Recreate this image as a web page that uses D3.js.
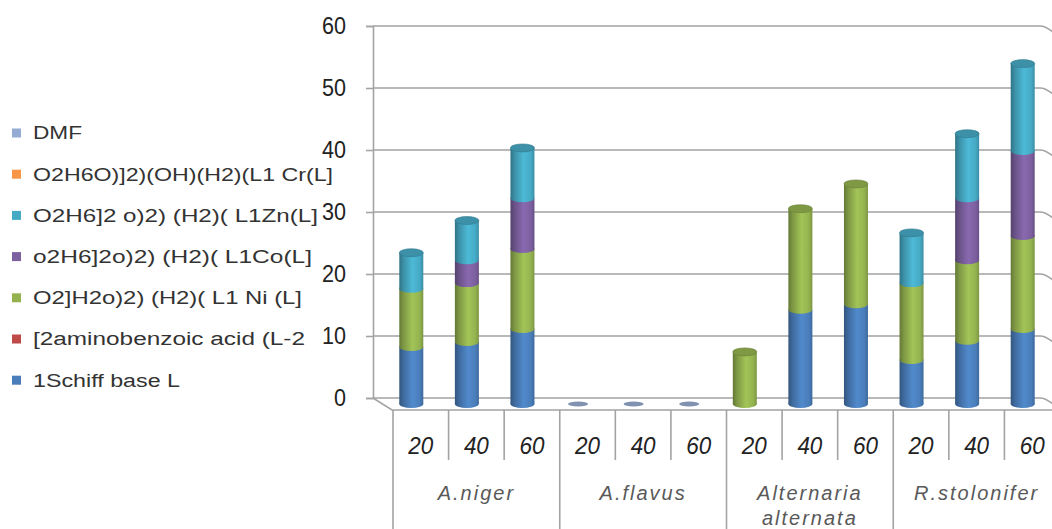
<!DOCTYPE html>
<html>
<head>
<meta charset="utf-8">
<script src="https://cdn.jsdelivr.net/npm/d3@7"></script>
<style>
  body { margin: 0; background: #fff; }
  svg { display: block; font-family: "Liberation Sans", Arial, sans-serif; }
</style>
</head>
<body>
<svg id="chart" width="1052" height="529"></svg>
<script>
// Categories: fungus groups and concentrations.
const groups = ["A.niger", "A.flavus", "Alternaria alternata", "R.stolonifer"];
const concs = ["20", "40", "60"];

// Series values, one per category (12 = 4 groups x 3 concentrations), bottom of stack first.
const schiffBase = [9.2, 10.0, 12.1, 0, 0, 0, 0, 15.2, 16.1, 7.1, 10.2, 12.1];
const aminobenzoic = [0, 0, 0, 0, 0, 0, 0, 0, 0, 0, 0, 0];
const niComplex = [9.4, 9.5, 12.9, 0, 0, 0, 8.4, 16.3, 19.4, 12.4, 13.0, 15.0];
const coComplex = [0, 3.7, 8.2, 0, 0, 0, 0, 0, 0, 0, 10.0, 13.7];
const znComplex = [5.8, 6.4, 8.1, 0, 0, 0, 0, 0, 0, 8.1, 10.4, 14.1];
const crComplex = [0, 0, 0, 0, 0, 0, 0, 0, 0, 0, 0, 0];
const dmf = [0, 0, 0, 0, 0, 0, 0, 0, 0, 0, 0, 0];

const seriesNames = [
  "1Schiff base L",
  "[2aminobenzoic acid (L-2",
  "O2]H2o)2) (H2)( L1 Ni (L]",
  "o2H6]2o)2) (H2)( L1Co(L]",
  "O2H6]2 o)2) (H2)( L1Zn(L]",
  "O2H6O)]2)(OH)(H2)(L1 Cr(L]",
  "DMF"
];
const seriesValues = [schiffBase, aminobenzoic, niComplex, coComplex, znComplex, crComplex, dmf];
const seriesColors = ["#4a7ebb", "#be4b48", "#94b350", "#7d60a0", "#46aac5", "#f79646", "#94acd3"];
const yTicks = [0, 10, 20, 30, 40, 50, 60];

// Build one row per category for d3.stack.
const keys = [];
groups.forEach(g => concs.forEach(c => keys.push(g + "|" + c)));
const table = keys.map((k, i) => {
  const row = { key: k };
  seriesNames.forEach((s, j) => row[s] = seriesValues[j][i]);
  return row;
});
const stacked = d3.stack().keys(seriesNames)(table);

const svg = d3.select("#chart");
const defs = svg.append("defs");

// 3D frame: back wall, and the depth offset of the floor.
const wallLeft = 373, wallRight = 1040;
const depthX = 19, depthY = 12;

const y = d3.scaleLinear().domain([0, 60]).range([398, 26]);
// Category band measured on the front edge of the floor.
const x = d3.scaleBand().domain(keys).range([wallLeft + depthX + 1, wallRight + depthX + 1]);
const gx = d3.scaleBand().domain(groups).range(x.range());

// Gridlines on the back wall, bending onto the right side wall.
const grid = svg.append("g").attr("fill", "none").attr("stroke", "#a3a3a3").attr("stroke-width", 1.6);
grid.selectAll("path")
  .data(yTicks)
  .enter().append("path")
  .attr("d", d => `M${wallLeft},${y(d)} H${wallRight} Q${wallRight + 8},${y(d)} ${wallRight + depthX},${y(d) + depthY}`);

// Floor outline.
svg.append("path")
  .attr("d", `M${wallLeft},${y(0)} L${wallLeft + depthX},${y(0) + depthY} H${wallRight + depthX + 20}`)
  .attr("fill", "none")
  .attr("stroke", "#a3a3a3")
  .attr("stroke-width", 1.6);

// Value axis on the left wall.
const yAxis = d3.axisLeft(y).tickValues(yTicks).tickSize(7).tickPadding(20);
const yg = svg.append("g")
  .attr("transform", `translate(${wallLeft},0)`)
  .call(yAxis);
yg.select(".domain").attr("stroke", "#a3a3a3").attr("stroke-width", 1.6);
yg.selectAll(".tick line").attr("stroke", "#a3a3a3").attr("stroke-width", 1.6);
yg.selectAll(".tick text")
  .attr("font-size", 24)
  .attr("fill", "#222")
  .attr("font-family", "Liberation Sans, Arial, sans-serif")
  .attr("textLength", d => String(d).length * 12)
  .attr("lengthAdjust", "spacingAndGlyphs");

// Gradients giving each colour a cylinder shading.
function cylGradient(id, base) {
  const c = d3.color(base);
  const g = defs.append("linearGradient").attr("id", id).attr("x1", 0).attr("x2", 1).attr("y1", 0).attr("y2", 0);
  g.append("stop").attr("offset", "0%").attr("stop-color", c.darker(1.1));
  g.append("stop").attr("offset", "18%").attr("stop-color", c.darker(0.45));
  g.append("stop").attr("offset", "55%").attr("stop-color", c.brighter(0.25));
  g.append("stop").attr("offset", "85%").attr("stop-color", c);
  g.append("stop").attr("offset", "100%").attr("stop-color", c.darker(0.5));
}
seriesColors.forEach((c, i) => cylGradient("cyl" + i, c));

// Cylinders stand half way into the depth of the floor.
const barW = 24, ry = 4;
const cx = k => x(k) + x.bandwidth() / 2 - depthX / 2;
const cy = v => y(v) + depthY / 2;

const bars = svg.append("g");
keys.forEach((k, i) => {
  const g = bars.append("g");
  let top = null;
  stacked.forEach((layer, j) => {
    const [lo, hi] = layer[i];
    if (hi - lo <= 0) return;
    g.append("rect")
      .attr("x", cx(k) - barW / 2)
      .attr("y", cy(hi))
      .attr("width", barW)
      .attr("height", cy(lo) - cy(hi))
      .attr("fill", `url(#cyl${j})`);
    g.append("ellipse")
      .attr("cx", cx(k))
      .attr("cy", cy(lo))
      .attr("rx", barW / 2)
      .attr("ry", ry)
      .attr("fill", `url(#cyl${j})`);
    top = { v: hi, j: j };
  });
  if (top) {
    g.append("ellipse")
      .attr("cx", cx(k))
      .attr("cy", cy(top.v))
      .attr("rx", barW / 2)
      .attr("ry", ry)
      .attr("fill", d3.color(seriesColors[top.j]).darker(0.45))
      .attr("stroke", d3.color(seriesColors[top.j]).darker(0.9))
      .attr("stroke-width", 0.6);
  } else {
    // All series are zero: Excel still shows a flat disc.
    g.append("ellipse")
      .attr("cx", cx(k))
      .attr("cy", cy(0))
      .attr("rx", barW / 2 - 2)
      .attr("ry", 2.6)
      .attr("fill", "#8092b0");
  }
});

// Category axis: concentration ticks and group labels below the floor.
const catAxis = svg.append("g");
const floorFront = y(0) + depthY;
catAxis.selectAll("line.inner")
  .data(keys.filter((k, i) => i % 3 !== 0))
  .enter().append("line")
  .attr("class", "inner")
  .attr("x1", d => x(d)).attr("x2", d => x(d))
  .attr("y1", floorFront).attr("y2", 460)
  .attr("stroke", "#a3a3a3").attr("stroke-width", 1.6);
catAxis.selectAll("line.group")
  .data(groups)
  .enter().append("line")
  .attr("class", "group")
  .attr("x1", d => gx(d)).attr("x2", d => gx(d))
  .attr("y1", floorFront).attr("y2", 529)
  .attr("stroke", "#a3a3a3").attr("stroke-width", 1.6);
catAxis.selectAll("text.conc")
  .data(keys)
  .enter().append("text")
  .attr("class", "conc")
  .attr("x", d => x(d) + x.bandwidth() / 2)
  .attr("y", 454)
  .attr("text-anchor", "middle")
  .attr("font-size", 23)
  .attr("font-style", "italic")
  .attr("fill", "#222")
  .attr("textLength", 25)
  .attr("lengthAdjust", "spacingAndGlyphs")
  .text(d => d.split("|")[1]);
const groupText = catAxis.selectAll("text.grp")
  .data(groups)
  .enter().append("text")
  .attr("class", "grp")
  .attr("x", d => gx(d) + gx.bandwidth() / 2)
  .attr("y", 500)
  .attr("text-anchor", "middle")
  .attr("font-size", 20)
  .attr("font-style", "italic")
  .attr("letter-spacing", 2)
  .attr("fill", "#595959");
groupText.selectAll("tspan")
  .data(d => d.split(" "))
  .enter().append("tspan")
  .attr("x", function() { return d3.select(this.parentNode).attr("x"); })
  .attr("dy", (d, i) => i === 0 ? 0 : 25)
  .text(d => d);

// Legend, listed top to bottom in reverse stack order.
const legendWidths = [147, 272, 269, 279, 285, 300, 49];
const legend = svg.append("g");
const items = legend.selectAll("g")
  .data(seriesNames.map((s, i) => i).reverse())
  .enter().append("g")
  .attr("transform", (d, i) => `translate(12,${133 + i * 41.2})`);
items.append("rect")
  .attr("x", 0).attr("y", -4.5)
  .attr("width", 9).attr("height", 9)
  .attr("fill", d => seriesColors[d]);
items.append("text")
  .attr("x", 21)
  .attr("y", 0)
  .attr("dy", "0.35em")
  .attr("font-size", 18)
  .attr("fill", "#333")
  .attr("textLength", d => legendWidths[d])
  .attr("lengthAdjust", "spacingAndGlyphs")
  .text(d => seriesNames[d]);
</script>
</body>
</html>
